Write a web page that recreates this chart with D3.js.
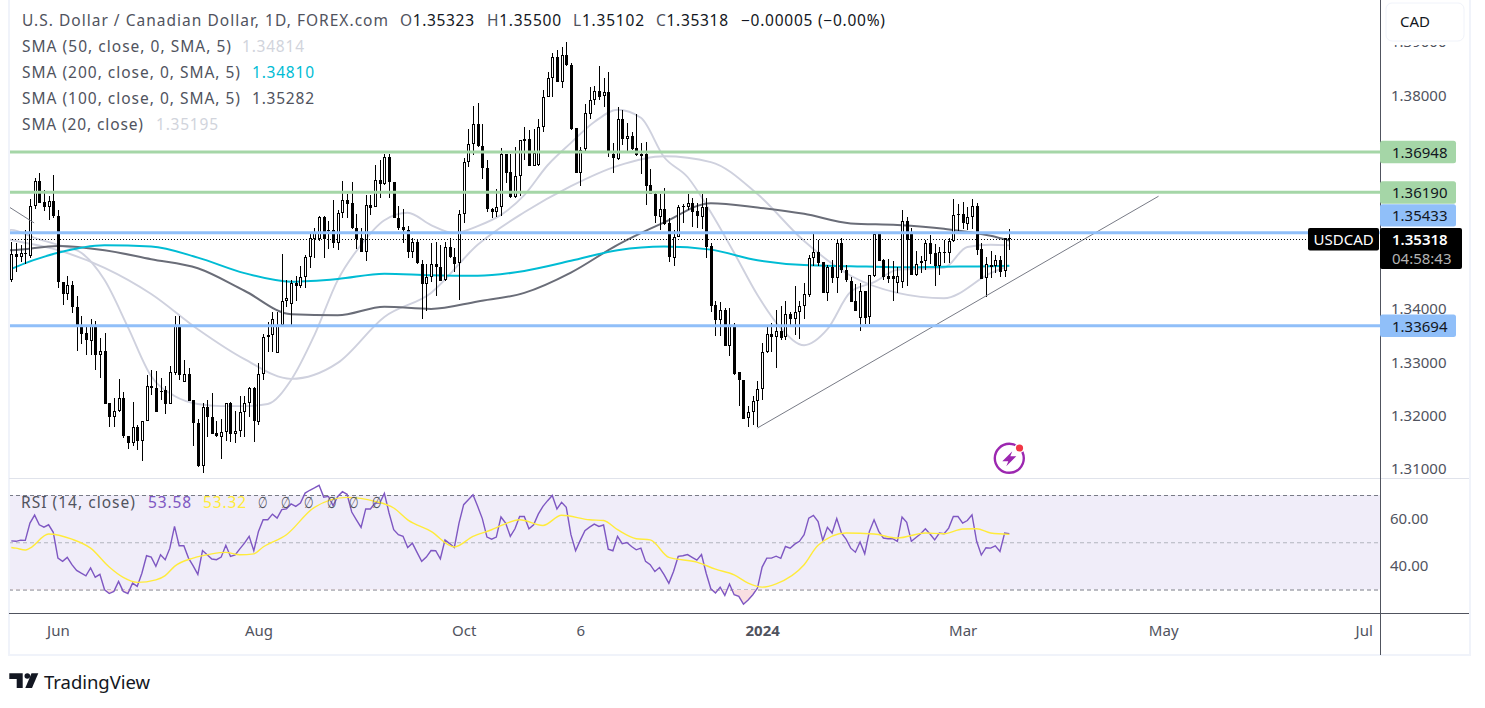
<!DOCTYPE html>
<html>
<head>
<meta charset="utf-8">
<script src="https://cdn.jsdelivr.net/npm/d3@7"></script>
<style>
  html, body { margin: 0; padding: 0; background: #fff; }
  svg { display: block; }
  text { font-family: "Noto Sans", sans-serif; }
</style>
</head>
<body>
<svg id="chart" width="1485" height="708"></svg>
<script>
// candles, in 1/10000 of a price unit
const openPx = [
  13454,13502,13496,13504,13500,13593,13640,13600,13590,13602,
  13574,13450,13428,13444,13403,13370,13354,13340,13370,13314,
  13322,13223,13196,13208,13233,13162,13149,13179,13153,13190,
  13255,13251,13247,13248,13221,13281,13370,13264,13279,13229,
  13186,13107,13217,13198,13167,13161,13170,13224,13165,13171,
  13206,13223,13251,13189,13279,13348,13352,13318,13370,13415,
  13409,13448,13442,13459,13497,13531,13531,13573,13548,13548,
  13524,13580,13604,13598,13551,13532,13507,13595,13590,13641,
  13634,13684,13638,13571,13554,13548,13507,13525,13485,13447,
  13460,13484,13479,13454,13515,13497,13485,13577,13675,13708,
  13746,13705,13663,13588,13582,13591,13690,13656,13610,13649,
  13718,13718,13668,13668,13740,13796,13832,13872,13825,13875,
  13857,13738,13654,13698,13766,13792,13808,13799,13806,13690,
  13682,13756,13717,13723,13701,13691,13691,13632,13615,13573,
  13588,13560,13496,13535,13592,13591,13598,13583,13573,13591,
  13518,13407,13379,13398,13331,13370,13281,13267,13194,13206,
  13227,13249,13319,13353,13348,13359,13346,13390,13381,13394,
  13405,13426,13495,13507,13487,13429,13478,13458,13523,13472,
  13453,13415,13383,13434,13384,13462,13540,13492,13462,13462,
  13449,13449,13564,13540,13464,13485,13489,13523,13504,13480,
  13504,13504,13527,13577,13577,13560,13573,13593,13512,13457,
  13483,13480,13492,13470,13532.3
];
const closePx = [
  13502,13496,13504,13502,13593,13640,13599,13590,13602,13573,
  13450,13428,13444,13402,13368,13354,13340,13370,13314,13322,
  13223,13196,13208,13233,13161,13149,13179,13153,13190,13255,
  13251,13206,13246,13221,13281,13370,13276,13279,13228,13186,
  13106,13217,13198,13166,13161,13170,13224,13166,13171,13206,
  13223,13251,13189,13279,13348,13352,13382,13370,13415,13420,
  13449,13442,13459,13497,13532,13542,13573,13532,13546,13523,
  13580,13604,13597,13551,13530,13506,13595,13590,13641,13634,
  13684,13638,13571,13552,13548,13507,13525,13485,13447,13460,
  13484,13479,13452,13515,13496,13484,13577,13675,13708,13746,
  13704,13663,13587,13582,13591,13690,13654,13610,13649,13716,
  13715,13668,13692,13740,13796,13832,13872,13825,13875,13857,
  13737,13654,13698,13766,13792,13808,13797,13806,13696,13682,
  13756,13718,13723,13699,13688,13687,13631,13615,13573,13588,
  13560,13496,13535,13591,13593,13598,13582,13573,13591,13516,
  13405,13379,13398,13331,13370,13279,13266,13194,13206,13227,
  13250,13319,13353,13348,13359,13346,13390,13381,13394,13405,
  13427,13495,13507,13487,13429,13478,13458,13523,13472,13453,
  13414,13397,13434,13384,13463,13540,13490,13460,13457,13457,
  13462,13564,13529,13464,13485,13489,13523,13503,13480,13506,
  13506,13527,13576,13575,13560,13573,13593,13510,13456,13484,
  13480,13492,13469,13532,13531.8
];
const highPx = [
  13525,13523,13520,13548,13606,13646,13654,13623,13612,13651,
  13585,13450,13462,13453,13425,13387,13370,13382,13377,13345,
  13354,13224,13233,13268,13244,13162,13225,13183,13191,13276,
  13286,13284,13271,13256,13293,13387,13387,13304,13289,13229,
  13193,13224,13229,13242,13191,13193,13224,13226,13208,13237,
  13237,13254,13253,13298,13353,13376,13395,13394,13503,13454,
  13454,13462,13480,13501,13542,13552,13574,13574,13565,13604,
  13585,13640,13616,13638,13578,13552,13613,13613,13669,13678,
  13691,13691,13638,13593,13587,13555,13533,13529,13492,13485,
  13523,13526,13520,13526,13533,13514,13585,13683,13737,13780,
  13785,13746,13679,13589,13624,13701,13690,13690,13704,13716,
  13740,13735,13737,13755,13810,13844,13880,13885,13891,13899,
  13860,13738,13703,13784,13816,13817,13855,13832,13843,13710,
  13778,13773,13749,13732,13765,13711,13712,13662,13621,13616,
  13626,13570,13548,13595,13597,13615,13607,13599,13615,13608,
  13523,13414,13413,13402,13402,13374,13282,13267,13219,13236,
  13265,13336,13367,13374,13398,13405,13414,13395,13442,13414,
  13448,13501,13540,13529,13488,13482,13492,13529,13532,13482,
  13460,13447,13448,13434,13463,13542,13542,13493,13493,13490,
  13479,13585,13572,13551,13508,13499,13529,13538,13521,13516,
  13529,13533,13605,13596,13601,13591,13605,13599,13523,13497,
  13509,13501,13499,13532,13550
];
const lowPx = [
  13450,13470,13487,13484,13496,13588,13598,13583,13567,13571,
  13439,13408,13417,13392,13322,13335,13314,13314,13286,13271,
  13223,13178,13179,13206,13158,13138,13144,13136,13116,13190,
  13239,13206,13229,13203,13221,13276,13266,13264,13228,13143,
  13103,13093,13161,13166,13160,13119,13153,13151,13148,13160,
  13160,13198,13151,13183,13266,13320,13320,13317,13366,13403,
  13370,13414,13439,13440,13476,13496,13527,13496,13512,13514,
  13510,13570,13571,13550,13512,13506,13490,13576,13590,13607,
  13632,13608,13571,13548,13523,13495,13495,13484,13381,13397,
  13451,13425,13452,13452,13495,13470,13417,13561,13666,13688,
  13704,13644,13582,13571,13573,13574,13636,13608,13607,13611,
  13679,13668,13668,13668,13732,13796,13797,13825,13813,13855,
  13735,13654,13631,13696,13755,13782,13791,13779,13685,13655,
  13678,13707,13694,13698,13687,13652,13595,13615,13561,13548,
  13558,13488,13481,13534,13561,13585,13553,13551,13550,13496,
  13395,13350,13350,13331,13312,13276,13219,13194,13178,13183,
  13178,13229,13317,13319,13289,13342,13341,13367,13351,13344,
  13382,13422,13481,13481,13429,13415,13449,13429,13467,13451,
  13412,13397,13359,13371,13372,13460,13490,13455,13449,13414,
  13430,13439,13443,13464,13462,13467,13472,13484,13442,13464,
  13486,13486,13526,13545,13549,13548,13549,13501,13456,13422,
  13458,13468,13460,13460,13510.2
];

// moving averages, sampled along the bars
const sma200Idx = [-1,0,10,20,30,40,50,60,70,80,90,100,110,120,130,140,150,160,170,180,190,200,210,214];
const sma200 = [13471,13475,13505,13519,13517,13496,13467,13451,13456,13466,13463,13462,13471,13490,13510,13517,13511,13491,13482,13480,13478,13479,13480,13481];
const sma100Idx = [-1,0,10,20,30,40,50,60,70,80,90,100,110,120,130,140,150,160,170,180,190,200,210,214];
const sma100 = [13510,13510,13518,13510,13493,13476,13434,13390,13388,13404,13400,13414,13430,13468,13520,13562,13598,13590,13578,13560,13557,13550,13537,13528];
const sma50Idx = [-1,0,10,20,30,40,50,60,70,80,90,100,110,120,130,140,150,160,170,180,190,200,210,214];
const sma50 = [13531,13529,13510,13477,13428,13362,13306,13269,13299,13385,13430,13520,13581,13630,13668,13686,13675,13615,13527,13462,13430,13420,13467,13481];
const sma20Idx = [-1,0,5,10,15,20,25,30,35,40,45,50,55,60,65,70,75,80,85,90,95,100,105,110,115,120,125,130,135,140,145,150,155,160,165,170,175,180,185,190,195,200,205,210,214];
const sma20 = [13546,13548,13533,13520,13505,13454,13366,13274,13237,13222,13218,13218,13222,13267,13351,13454,13520,13566,13580,13557,13542,13555,13576,13613,13669,13711,13750,13773,13758,13684,13647,13581,13505,13426,13364,13332,13362,13432,13450,13473,13475,13477,13516,13520,13519];

// rsi, one value per bar
const rsi = [
  50.6,50.4,50.9,50.8,58.1,61.5,57.4,56.4,57.4,54.2,
  43.3,41.9,43.6,40.5,38.1,36.9,35.8,39.1,35.2,36.4,
  29.9,28.3,29.2,33.4,29.2,28.3,32.7,31.3,36.9,44.3,
  43.7,39.8,44.7,42.6,47.5,56.7,48.5,48.5,43.3,40.0,
  36.4,46.5,44.7,42.9,42.6,43.7,48.7,44.0,44.6,47.2,
  49.6,52.5,46.4,54.6,59.5,59.5,61.9,60.2,63.8,64.1,
  66.2,65.2,66.6,70.8,72.0,73.0,74.1,69.1,69.4,65.5,
  69.4,71.4,70.3,62.8,59.5,56.3,64.1,64.1,66.6,66.6,
  70.7,62.4,55.3,53.2,52.5,47.8,49.6,45.7,41.9,43.7,
  46.5,46.4,43.0,51.0,49.4,47.8,58.1,65.9,68.0,70.1,
  65.2,60.0,52.2,51.3,52.2,60.7,58.1,52.5,55.7,60.9,
  60.9,55.7,57.4,61.9,65.2,67.6,69.8,64.1,66.9,64.8,
  53.2,46.4,50.8,54.9,56.4,57.7,56.7,57.3,47.1,46.4,
  52.5,49.4,49.9,48.2,46.8,47.5,41.9,40.5,37.6,39.3,
  36.2,32.6,37.6,44.0,44.3,44.8,43.6,42.4,44.8,36.9,
  30.3,28.5,31.0,27.5,32.3,27.8,27.1,23.8,25.6,27.8,
  30.6,39.5,43.3,43.3,44.1,43.2,48.2,47.5,49.2,50.4,
  53.2,60.2,61.4,58.8,50.8,56.3,53.9,60.0,53.9,51.3,
  47.5,45.8,50.1,45.1,54.6,59.5,54.6,51.8,51.5,51.5,
  50.4,60.7,58.4,50.4,52.0,53.6,55.7,53.5,51.0,53.9,
  53.6,56.0,60.9,60.9,58.1,59.2,61.6,50.4,44.6,47.7,
  47.5,48.5,46.1,53.9,53.58
];
const rsiMaIdx = [0,1,3,4,8,13,17,21,24,27,31,33,35,39,43,46,49,52,54,59,65,72,78,82,85,90,95,99,103,105,109,114,118,124,127,130,134,137,141,147,151,155,158,161,164,170,173,179,185,190,196,200,204,207,210,214];
const rsiMa = [47.8,47.5,46.7,47.5,53.5,51.3,47.5,39.5,35.1,33.0,34.1,35.9,39.8,43.3,45.1,45.7,44.7,45.1,48.0,53.2,64.8,69.0,67.3,64.5,59.5,54.6,48.0,52.5,55.3,57.0,59.5,57.1,61.4,59.5,59.2,55.3,51.5,51.0,43.6,41.6,38.6,36.2,32.7,31.0,32.4,40.5,48.7,53.9,53.5,51.8,53.9,53.6,55.6,55.7,53.9,53.32];

// drawings and axes
const trendIdx = [160, 246];
const trendPx = [13177, 13611];
const stubIdx = [-0.5, 4.9];
const stubPx = [13591, 13561];
const levels = [1.36948, 1.36190, 1.35433, 1.33694];
const levelKinds = ["green", "green", "blue", "blue"];
const priceTicks = [1.39, 1.38, 1.34, 1.33, 1.32, 1.31];
const rsiTicks = [60, 40];
const rsiBands = [70, 50, 30];
const timeLabels = ["Jun", "Aug", "Oct", "6", "2024", "Mar", "May", "Jul"];
const timeIdx = [10, 53, 97, 122, 161, 204, 247, 290];
const lastClose = 1.35318;

const svg = d3.select("#chart");
const paneRight = 1380;

const x = d3.scaleLinear().domain([0, 214]).range([11.3, 1009.3]);
const y = d3.scaleLinear().domain([1.38, 1.31]).range([95.3, 469.1]);
const yRsi = d3.scaleLinear().domain([70, 30]).range([495, 589.5]);

const defs = svg.append("defs");
defs.append("clipPath").attr("id", "mainClip").append("rect")
  .attr("x", 9).attr("y", 0).attr("width", paneRight - 9).attr("height", 478);
defs.append("clipPath").attr("id", "lowClip").append("rect")
  .attr("x", 9).attr("y", yRsi(30)).attr("width", paneRight - 9).attr("height", 22);

// frame
svg.append("rect").attr("width", 1485).attr("height", 708).attr("fill", "#fff");

const main = svg.append("g").attr("clip-path", "url(#mainClip)");

//moving averages
const smaLine = d3.line().curve(d3.curveMonotoneX)
  .x(d => x(d[0])).y(d => y(d[1] / 10000));
function addSma(idx, vals, color, width) {
  main.append("path").datum(idx.map((d, i) => [d, vals[i]]))
    .attr("fill", "none").attr("stroke", color).attr("stroke-width", width)
    .attr("d", smaLine);
}
addSma(sma50Idx, sma50, "#cfd1de", 1.9);
addSma(sma20Idx, sma20, "#cfd1de", 1.9);
addSma(sma100Idx, sma100, "#6a6d78", 2);
addSma(sma200Idx, sma200, "#00bcd4", 2);

//candles
const bars = openPx.map((o, i) => ({ i, o: o / 10000, c: closePx[i] / 10000, h: highPx[i] / 10000, l: lowPx[i] / 10000 }));
const candle = main.append("g").attr("shape-rendering", "crispEdges")
  .selectAll("g").data(bars).join("g");
candle.append("rect")
  .attr("x", d => Math.round(x(d.i)))
  .attr("width", 1)
  .attr("y", d => y(d.h))
  .attr("height", d => Math.max(1, y(d.l) - y(d.h)))
  .attr("fill", "#000");
candle.append("rect")
  .attr("x", d => Math.round(x(d.i)) - 1)
  .attr("width", 3)
  .attr("y", d => Math.round(y(Math.max(d.o, d.c))))
  .attr("height", d => Math.max(1, Math.round(y(Math.min(d.o, d.c)) - y(Math.max(d.o, d.c)))))
  .attr("fill", "#000");
candle.filter(d => d.c >= d.o).append("rect")
  .attr("x", d => Math.round(x(d.i)))
  .attr("width", 1)
  .attr("y", d => Math.round(y(Math.max(d.o, d.c))) + 1)
  .attr("height", d => Math.max(0, Math.round(y(Math.min(d.o, d.c)) - y(Math.max(d.o, d.c))) - 2))
  .attr("fill", "#fff");

//trend lines
[[trendIdx, trendPx], [stubIdx, stubPx]].forEach(t => {
  main.append("line")
    .attr("x1", x(t[0][0])).attr("x2", x(t[0][1]))
    .attr("y1", y(t[1][0] / 10000)).attr("y2", y(t[1][1] / 10000))
    .attr("stroke", "#787b86").attr("stroke-width", 1);
});

//last price line
main.append("line")
  .attr("x1", 9).attr("x2", 1308).attr("y1", Math.round(y(lastClose)) + 0.5).attr("y2", Math.round(y(lastClose)) + 0.5)
  .attr("stroke", "#000").attr("stroke-width", 1).attr("stroke-dasharray", "1 2");

//horizontal levels
const levelColor = { green: "#a5d6a7", blue: "#90bff9" };
main.selectAll(".level").data(levels).join("line")
  .attr("class", "level")
  .attr("x1", 9).attr("x2", paneRight)
  .attr("y1", d => y(d) + 0.4).attr("y2", d => y(d) + 0.4)
  .attr("stroke", (d, i) => levelColor[levelKinds[i]]).attr("stroke-width", 3);

// rsi pane
svg.append("rect").attr("x", 9).attr("width", paneRight - 9)
  .attr("y", yRsi(70)).attr("height", yRsi(30) - yRsi(70))
  .attr("fill", "#f0edf9");
svg.selectAll(".band").data(rsiBands).join("line")
  .attr("class", "band")
  .attr("x1", 9).attr("x2", paneRight)
  .attr("y1", d => yRsi(d) + 0.5).attr("y2", d => yRsi(d) + 0.5)
  .attr("stroke", d => d === 50 ? "#b2b5be" : "#787b86")
  .attr("stroke-width", 1).attr("stroke-dasharray", "4 3");

const rsiPoints = rsi.map((v, i) => [i, v]);
svg.append("path").datum(rsiPoints)
  .attr("clip-path", "url(#lowClip)")
  .attr("fill", "#f9dfe2")
  .attr("d", d3.area().x(d => x(d[0])).y0(yRsi(30)).y1(d => yRsi(d[1])));
svg.append("path").datum(rsiPoints)
  .attr("fill", "none").attr("stroke", "#7e57c2").attr("stroke-width", 1.4)
  .attr("d", d3.line().x(d => x(d[0])).y(d => yRsi(d[1])));
svg.append("path").datum(rsiMaIdx.map((d, i) => [d, rsiMa[i]]))
  .attr("fill", "none").attr("stroke", "#ffeb3b").attr("stroke-width", 1.4)
  .attr("d", d3.line().curve(d3.curveMonotoneX).x(d => x(d[0])).y(d => yRsi(d[1])));

// separators and borders
const sepColor = "#e0e3eb", axisColor = "#50535e", edgeColor = "#f0f3fa";
svg.append("rect").attr("x", 8).attr("y", 0).attr("width", 2).attr("height", 656).attr("fill", edgeColor);
svg.append("rect").attr("x", 1469).attr("y", 0).attr("width", 2).attr("height", 656).attr("fill", edgeColor);
svg.append("rect").attr("x", 8).attr("y", 654).attr("width", 1463).attr("height", 2).attr("fill", edgeColor);
svg.append("rect").attr("x", 9).attr("y", 478).attr("width", 1460).attr("height", 1).attr("fill", sepColor);
svg.append("rect").attr("x", 9).attr("y", 613).attr("width", 1460).attr("height", 1).attr("fill", axisColor);
svg.append("rect").attr("x", 1380).attr("y", 0).attr("width", 1).attr("height", 655).attr("fill", axisColor);

// axes
const axisFont = 15;
function styleAxis(g) {
  g.select(".domain").remove();
  g.selectAll("text").attr("fill", axisColor).attr("font-size", axisFont).attr("font-family", "Noto Sans");
}
svg.append("g").attr("transform", "translate(1381,0)")
  .call(d3.axisRight(y).tickValues(priceTicks).tickFormat(d3.format(".5f")).tickSize(0).tickPadding(10))
  .call(styleAxis);
svg.append("g").attr("transform", "translate(1381,0)")
  .call(d3.axisRight(yRsi).tickValues(rsiTicks).tickFormat(d3.format(".2f")).tickSize(0).tickPadding(9))
  .call(styleAxis);
svg.append("g").attr("transform", "translate(0,613)")
  .call(d3.axisBottom(x).tickValues(timeIdx).tickFormat((d, i) => timeLabels[i]).tickSize(0).tickPadding(12))
  .call(styleAxis)
  .call(g => g.selectAll("text").attr("font-weight", d => d === 161 ? 700 : 400));

// cad button, hides the top of the scale
svg.append("rect").attr("x", 1382).attr("y", 0).attr("width", 86).attr("height", 45).attr("fill", "#fff");
svg.append("rect").attr("x", 1386).attr("y", 3).attr("width", 78).attr("height", 38).attr("rx", 6)
  .attr("fill", "#fff").attr("stroke", edgeColor).attr("stroke-width", 1);
svg.append("text").attr("x", 1400).attr("y", 27).attr("font-size", 15).attr("fill", "#131722").text("CAD");

// level tags, the 1.35433 tag is pushed up clear of the last price tag
const tagGroup = svg.append("g");
levels.forEach((lv, i) => {
  const cy = y(lv) + (lv === 1.35433 ? -17 : 0.5);
  tagGroup.append("rect").attr("x", 1380).attr("y", cy - 11.2).attr("width", 76).attr("height", 22.4).attr("rx", 2.5)
    .attr("fill", levelColor[levelKinds[i]]);
  tagGroup.append("text").attr("x", 1392).attr("y", cy + 6).attr("font-size", 15)
    .attr("fill", "#131722").text(lv.toFixed(5));
});

// last price tag
const ly = y(lastClose);
svg.append("rect").attr("x", 1308).attr("y", ly - 10.5).attr("width", 71).attr("height", 22.4).attr("rx", 2).attr("fill", "#000");
svg.append("text").attr("x", 1313.5).attr("y", ly + 6.5).attr("font-size", 15).attr("fill", "#fff").text("USDCAD");
svg.append("rect").attr("x", 1380).attr("y", ly - 10.5).attr("width", 82).attr("height", 41).attr("rx", 2).attr("fill", "#000");
svg.append("text").attr("x", 1392).attr("y", ly + 6.5).attr("font-size", 15).attr("font-weight", 600).attr("fill", "#fff").text(lastClose.toFixed(5));
svg.append("text").attr("x", 1392).attr("y", ly + 25.5).attr("font-size", 15).attr("fill", "#b2b2b2").text("04:58:43");

// legends
const legendDark = "#50535e";
function legend(xp, yp, str, color, width) {
  const t = svg.append("text").attr("x", xp).attr("y", yp).attr("font-size", 15.5)
    .attr("fill", color).text(str);
  if (width) t.attr("textLength", width).attr("lengthAdjust", "spacing");
  return t;
}
legend(22, 26, "U.S. Dollar / Canadian Dollar, 1D, FOREX.com", legendDark, 366);
[["O", "1.35323", 400, 74], ["H", "1.35500", 487, 74], ["L", "1.35102", 573, 71], ["C", "1.35318", 656, 72]].forEach(d => {
  const t = legend(d[2], 26, "", legendDark, d[3]);
  t.append("tspan").text(d[0]);
  t.append("tspan").attr("fill", "#131722").text(d[1]);
});
legend(741, 26, "\u22120.00005 (\u22120.00%)", "#131722", 144);

const smaRows = [
  ["SMA (50, close, 0, SMA, 5)", 209, "1.34814", "#d1d4dc", 242, 52],
  ["SMA (200, close, 0, SMA, 5)", 218, "1.34810", "#00bcd4", 252, 78],
  ["SMA (100, close, 0, SMA, 5)", 218, "1.35282", "#50535e", 252, 104],
  ["SMA (20, close)", 121, "1.35195", "#d1d4dc", 156, 130]
];
smaRows.forEach(r => {
  legend(22, r[5], r[0], legendDark, r[1]);
  legend(r[4], r[5], r[2], r[3], 62);
});

legend(21, 508, "RSI (14, close)", legendDark, 114);
legend(148, 508, "53.58", "#7e57c2", 43);
legend(203, 508, "53.32", "#ffeb3b", 43);
[258, 281, 304, 327, 349, 372].forEach(px => {
  legend(px, 508, "\u2205", legendDark).attr("textLength", 9.5).attr("lengthAdjust", "spacingAndGlyphs");
});

// flash icon
const icon = svg.append("g").attr("transform", "translate(1009.3,458.3)");
icon.append("circle").attr("r", 14.5).attr("fill", "none").attr("stroke", "#9c27b0").attr("stroke-width", 2.4);
icon.append("path").attr("d", "M3,-7 L-7,3 L-1,3 L-3,8 L7,-2 L1,-2 Z").attr("fill", "#9c27b0");
icon.append("circle").attr("cx", 10.2).attr("cy", -10.3).attr("r", 5).attr("fill", "#fff");
icon.append("circle").attr("cx", 10.2).attr("cy", -10.3).attr("r", 3.6).attr("fill", "#f23645");

// tradingview logo
const logo = svg.append("g").attr("fill", "#131722");
logo.append("path").attr("d", "M9.3,673.3H22.7V688H16.7V679H9.3Z");
logo.append("circle").attr("cx", 27.3).attr("cy", 676).attr("r", 2.8);
logo.append("path").attr("d", "M31.5,673.3H38.3L32,688H25.3Z");
svg.append("text").attr("x", 44).attr("y", 688.5).attr("font-size", 18.5).attr("fill", "#131722")
  .attr("textLength", 106).text("TradingView");
</script>
</body>
</html>
